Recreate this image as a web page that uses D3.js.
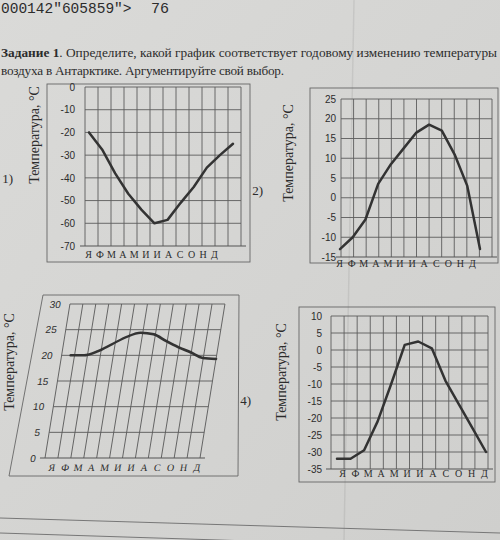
<!DOCTYPE html>
<html><head><meta charset="utf-8">
<script src="https://cdn.jsdelivr.net/npm/d3@7"></script>
<style>html,body{margin:0;padding:0;background:#d6d6d4;} svg{display:block}</style>
</head><body>
<svg id="c" width="500" height="540"></svg>
<script>
const months = ["Я","Ф","М","А","М","И","И","А","С","О","Н","Д"];
const ticks1 = [0,-10,-20,-30,-40,-50,-60,-70];
const ticks2 = [25,20,15,10,5,0,-5,-10,-15];
const ticks3 = [30,25,20,15,10,5,0];
const ticks4 = [10,5,0,-5,-10,-15,-20,-25,-30,-35];
const temps1 = [-20,-27.5,-38,-47,-54,-60,-58.5,-51,-44,-35.5,-30,-25];
const temps2 = [-13,-10,-5.5,3.5,8.5,12.5,16.5,18.5,17,11,3,-13];
const temps3 = [20,20,20.8,22.2,23.6,24.4,24.1,22.8,21.6,20.6,19.5,19.3];
const temps4 = [-32,-32,-29.5,-21,-10,1.5,2.5,0.5,-9,-16,-23,-30];
const yTitle = "Температура, °С";

const svg = d3.select("#c");
const defs = svg.append("defs");
const grad = defs.append("linearGradient").attr("id","bg").attr("x1",0).attr("y1",0).attr("x2",1).attr("y2",1);
grad.append("stop").attr("offset","0%").attr("stop-color","#dadad8");
grad.append("stop").attr("offset","100%").attr("stop-color","#cfcfcd");
svg.append("rect").attr("width",500).attr("height",540).attr("fill","url(#bg)");

// fold line
svg.append("line").attr("x1",354).attr("y1",0).attr("x2",344).attr("y2",540)
  .attr("stroke","#000").attr("stroke-opacity",0.07).attr("stroke-width",1.5);

const serif = "'Liberation Serif','DejaVu Serif',serif";
const sans = "'Liberation Sans','DejaVu Sans',sans-serif";
const ink = "#2c2c2c";

// header
svg.append("text").attr("x",1).attr("y",13).attr("font-family","'Liberation Mono','DejaVu Sans Mono',monospace")
  .attr("font-size",14.5).attr("fill",ink).text("000142\"605859\">");
svg.append("text").attr("x",151).attr("y",13).attr("font-family","'Liberation Mono','DejaVu Sans Mono',monospace")
  .attr("font-size",15).attr("fill",ink).text("76");
const t1 = svg.append("text").attr("x",1).attr("y",57).attr("font-family",serif).attr("font-size",13.2).attr("fill",ink)
  .attr("textLength",496).attr("lengthAdjust","spacingAndGlyphs");
t1.append("tspan").attr("font-weight","bold").text("Задание 1");
t1.append("tspan").text(". Определите, какой график соответствует годовому изменению температуры");
svg.append("text").attr("x",1).attr("y",75).attr("font-family",serif).attr("font-size",13.2).attr("fill",ink)
  .attr("textLength",283).attr("lengthAdjust","spacing")
  .text("воздуха в Антарктике. Аргументируйте свой выбор.");

// frames
const frame = "#666";
svg.append("rect").attr("x",47).attr("y",84).attr("width",203).attr("height",178).attr("fill","none").attr("stroke",frame).attr("stroke-width",0.9);
svg.append("rect").attr("x",310).attr("y",88).attr("width",188).attr("height",175).attr("fill","none").attr("stroke",frame).attr("stroke-width",0.9);
svg.append("path").attr("d","M43,295 L239,295 L238,476 L9,476 Z").attr("fill","none").attr("stroke",frame).attr("stroke-width",0.9);
svg.append("rect").attr("x",299).attr("y",307).attr("width",196).attr("height",175).attr("fill","none").attr("stroke",frame).attr("stroke-width",0.9);

// bottom page lines
svg.append("line").attr("x1",0).attr("y1",518).attr("x2",500).attr("y2",533).attr("stroke","#777").attr("stroke-width",1);
svg.append("line").attr("x1",0).attr("y1",533).attr("x2",500).attr("y2",549).attr("stroke","#777").attr("stroke-width",1);

function chart(g, o) {
  const y = d3.scaleLinear().domain([o.ticks[0], o.ticks[o.ticks.length-1]]).range([o.yTop, o.yBot]);
  const band = d3.scaleBand().domain(d3.range(12)).range([o.gx0, o.gx1]);
  const xp = d3.scalePoint().domain(d3.range(12)).range(o.pts);
  const xl = d3.scalePoint().domain(d3.range(12)).range(o.labs);
  const vx = d3.range(12).map(i => band(i)).concat([o.gx1]);
  g.append("g").selectAll("line").data(vx).join("line")
    .attr("x1", d => d).attr("x2", d => d).attr("y1", o.yTop).attr("y2", o.yBot)
    .attr("stroke", "#5c5c5c").attr("stroke-width", 0.9);
  g.append("g").selectAll("line").data(o.ticks.slice(0, -1)).join("line")
    .attr("x1", o.gx0).attr("x2", o.gx1).attr("y1", d => y(d)).attr("y2", d => y(d))
    .attr("stroke", "#5c5c5c").attr("stroke-width", 0.9);
  g.append("line").attr("x1", o.gx0 - 5).attr("x2", o.gx1 + 5)
    .attr("y1", y(o.ticks[o.ticks.length-1])).attr("y2", y(o.ticks[o.ticks.length-1]))
    .attr("stroke", "#555").attr("stroke-width", 1.1);
  const ax = g.append("g").attr("transform", `translate(${o.gx0},0)`)
    .call(d3.axisLeft(y).tickValues(o.ticks).tickSize(0).tickPadding(o.pad).tickFormat(d => String(d)));
  ax.select(".domain").remove();
  ax.selectAll("text").attr("font-family", sans).attr("font-size", 10).attr("fill", ink);
  const bx = g.append("g").attr("transform", `translate(0,${o.labY})`)
    .call(d3.axisBottom(xl).tickSize(0).tickFormat(i => months[i]));
  bx.select(".domain").remove();
  bx.selectAll("text").attr("y", 0).attr("dy", 0).attr("font-family", serif).attr("font-size", 10).attr("fill", ink);
  const line = d3.line().x((d, i) => xp(i)).y(d => y(d));
  if (o.curve) line.curve(o.curve);
  g.append("path").datum(o.values).attr("d", line).attr("fill", "none")
    .attr("stroke", "#333").attr("stroke-width", 2.5).attr("stroke-linejoin", "round").attr("stroke-linecap", "round");
}

function title(x, y) {
  svg.append("text").attr("transform", `translate(${x},${y}) rotate(-90)`).attr("text-anchor", "middle")
    .attr("dy", "0.35em").attr("font-family", serif).attr("font-size", 14).attr("fill", ink).text(yTitle);
}
function num(x, y, s) {
  svg.append("text").attr("x", x).attr("y", y).attr("text-anchor", "end").attr("font-family", serif)
    .attr("font-size", 13).attr("fill", ink).text(s);
}

chart(svg.append("g"), {ticks: ticks1, values: temps1, yTop: 87, yBot: 246, gx0: 85, gx1: 241,
  pts: [89, 233], labs: [88, 214], labY: 258, pad: 10});
chart(svg.append("g"), {ticks: ticks2, values: temps2, yTop: 99, yBot: 257, gx0: 341, gx1: 492,
  pts: [340, 480], labs: [339, 472], labY: 267, pad: 5});
chart(svg.append("g").attr("transform", "translate(0,458) skewX(-9.2) translate(0,-458)"),
  {ticks: ticks3, values: temps3, yTop: 304, yBot: 458, gx0: 45, gx1: 200,
  pts: [54, 200], labs: [53, 198], labY: 471, pad: 9, curve: d3.curveMonotoneX});
chart(svg.append("g"), {ticks: ticks4, values: temps4, yTop: 316, yBot: 469, gx0: 331, gx1: 488,
  pts: [337, 486], labs: [342, 484], labY: 477, pad: 9});

title(34, 135);
title(288, 153);
title(9, 362);
title(281, 372);
num(13, 183, "1)");
num(263, 195, "2)");
num(251, 405, "4)");
</script>
</body></html>
